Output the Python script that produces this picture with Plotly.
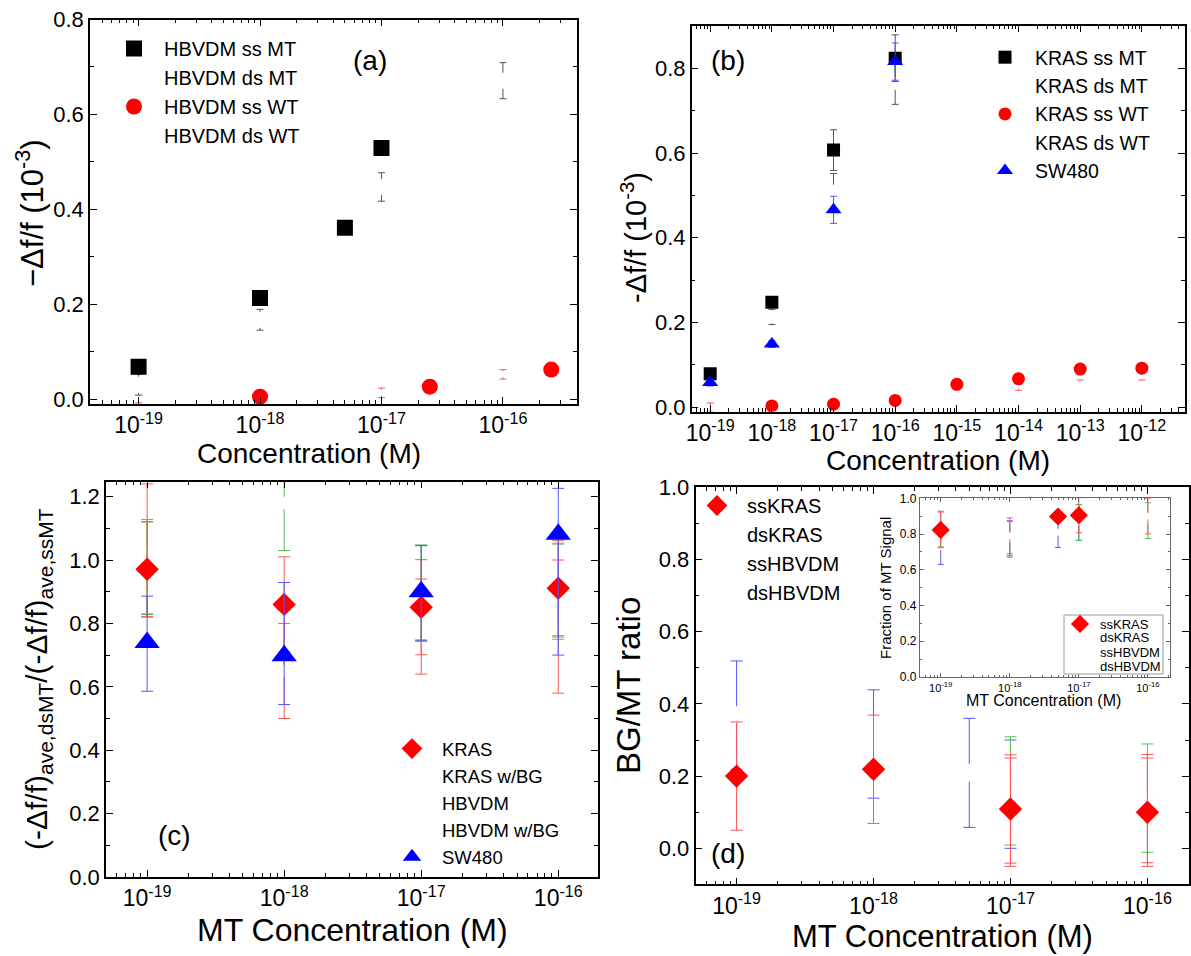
import plotly.graph_objects as go

W, H = 1191, 956
def X(px): return px / W
def Y(py): return 1 - py / H

FONT = "Arial, Liberation Sans, sans-serif"
RED, BLUE, GREEN, BLACK = "#FF0000", "#0000FF", "#00B000", "#000000"
ERED, EBLUE, EGREEN, EBLACK = "#FF5555", "#5555FF", "#55C055", "#555555"

# ---------------- data ----------------
# (a) HBVDM
a_ssMT_x = [1e-19, 1e-18, 5e-18, 1e-17]
a_ssMT_y = [0.068, 0.213, 0.361, 0.529]
a_dsMT_x = [1e-19, 1e-18, 1e-17, 1e-16]
a_dsMT_y = [0.030, 0.167, 0.447, 0.671]
a_dsMT_err = [0.022, 0.022, 0.030, 0.038]
a_ssWT_x = [1e-18, 2.5e-17, 2.5e-16]
a_ssWT_y = [0.005, 0.026, 0.062]
a_dsWT_x = [1e-19, 1e-17, 1e-16]
a_dsWT_y = [0.000, 0.013, 0.052]
a_dsWT_err = [0.008, 0.010, 0.010]

# (b) KRAS
b_ssMT_x = [1e-19, 1e-18, 1e-17, 1e-16]
b_ssMT_y = [0.079, 0.248, 0.607, 0.824]
b_ssMT_err = [0.004, 0.004, 0.048, 0.055]
b_dsMT_x = [1e-19, 1e-18, 1e-17, 1e-16]
b_dsMT_y = [0.065, 0.213, 0.510, 0.765]
b_dsMT_err = [0.004, 0.018, 0.042, 0.050]
b_ssWT_x = [1e-18, 1e-17, 1e-16, 1e-15, 1e-14, 1e-13, 1e-12]
b_ssWT_y = [0.003, 0.007, 0.016, 0.054, 0.067, 0.090, 0.092]
b_dsWT_x = [1e-19, 1e-14, 1e-13, 1e-12]
b_dsWT_y = [0.000, 0.050, 0.072, 0.072]
b_dsWT_err = [0.010, 0.010, 0.008, 0.008]
b_sw_x = [1e-19, 1e-18, 1e-17, 1e-16]
b_sw_y = [0.058, 0.149, 0.466, 0.816]
b_sw_err = [0.008, 0.008, 0.032, 0.044]

# (c) ratio ds/ss
c_x = [1e-19, 1e-18, 1e-17, 1e-16]
c_kras_y = [0.971, 0.860, 0.851, 0.911]
c_kras_err = [0.15, 0.15, 0.15, 0.15]
c_krasbg_y = [1.03, 0.65, 0.79, 0.79]
c_krasbg_err = [0.21, 0.15, 0.15, 0.21]
c_hbv_y = [0.978, 1.18, 0.897, 0.900]
c_hbv_err = [0.15, 0.15, 0.15, 0.15]
c_hbvbg_x = [1e-19, 1e-17, 1e-16]
c_hbvbg_y = [0.975, 0.895, 0.905]
c_hbvbg_err = [0.145, 0.152, 0.148]
c_sw_y = [0.740, 0.698, 0.900, 1.081]
c_sw_errp = [0.146, 0.231, 0.145, 0.145]
c_sw_errm = [0.154, 0.154, 0.153, 0.381]

# (d) BG/MT ratio
d_ssK_x = [1e-19, 1e-18, 1e-17, 1e-16]
d_ssK_y = [0.200, 0.219, 0.109, 0.100]
d_ssK_err = [0.15, 0.15, 0.15, 0.15]
d_dsK_x = [1e-17, 1e-16]
d_dsK_y = [0.100, 0.110]
d_dsK_err = [0.15, 0.15]
d_ssH_x = [1e-19, 1e-18, 5e-18, 1e-17]
d_ssH_y = [0.369, 0.289, 0.209, 0.150]
d_ssH_err = [0.15, 0.15, 0.151, 0.15]
d_dsH_x = [1e-17, 1e-16]
d_dsH_y = [0.159, 0.139]
d_dsH_err = [0.15, 0.15]

# (d) inset: fraction of MT signal
i_ssK_x = [1e-19, 5e-18, 1e-17]
i_ssK_y = [0.823, 0.898, 0.905]
i_ssK_err = [0.10, 0.03, 0.098]
i_dsK_x = [1e-18, 1e-16]
i_dsK_y = [0.790, 0.900]
i_dsK_err = [0.10, 0.10]
i_ssH_x = [1e-19, 1e-18, 5e-18, 1e-17]
i_ssH_y = [0.730, 0.776, 0.810, 0.865]
i_ssH_err = [0.10, 0.098, 0.085, 0.10]
i_dsH_x = [1e-19, 1e-18, 1e-17, 1e-16]
i_dsH_y = [0.828, 0.770, 0.865, 0.875]
i_dsH_err = [0.10, 0.10, 0.10, 0.10]
inset_legend_names = ["dsKRAS", "ssHBVDM", "dsHBVDM"]

tick_vals_b = [1e-19, 1e-18, 1e-17, 1e-16, 1e-15, 1e-14, 1e-13, 1e-12]
tick_text_b = ["10<sup>-19</sup>", "10<sup>-18</sup>", "10<sup>-17</sup>", "10<sup>-16</sup>",
               "10<sup>-15</sup>", "10<sup>-14</sup>", "10<sup>-13</sup>", "10<sup>-12</sup>"]
tick_vals = tick_vals_b[:4]
tick_text = tick_text_b[:4]
minor_vals = [m * 10.0 ** e for e in range(-20, -11) for m in range(2, 10)]

fig = go.Figure()

def add(xs, ys, name, sym, size, color, xa, ya, legend, rank,
        err=None, errm=None, ecolor=None, capw=3.5, hidden=False, showlegend=True):
    ed = None
    if err is not None:
        ed = dict(type="data", array=err, visible=True, color=ecolor or color,
                  thickness=1, width=capw)
        if errm is not None:
            ed["symmetric"] = False
            ed["arrayminus"] = errm
    fig.add_trace(go.Scatter(
        x=xs, y=ys, name=name, mode="markers", xaxis=xa, yaxis=ya,
        legend=legend, legendrank=rank,
        marker=dict(symbol=sym, size=size,
                    color="white" if hidden else color,
                    line=dict(width=0)),
        error_y=ed, showlegend=showlegend))

# (a) -- hidden series drawn first
add(a_dsMT_x, a_dsMT_y, "HBVDM ds MT", "square", 16, BLACK, "x", "y", "legend", 2,
    err=a_dsMT_err, ecolor=EBLACK, hidden=True)
add(a_dsWT_x, a_dsWT_y, "HBVDM ds WT", "circle", 6, RED, "x", "y", "legend", 4,
    err=a_dsWT_err, ecolor=ERED, hidden=True)
add(a_ssMT_x, a_ssMT_y, "HBVDM ss MT", "square", 16, BLACK, "x", "y", "legend", 1)
add(a_ssWT_x, a_ssWT_y, "HBVDM ss WT", "circle", 16, RED, "x", "y", "legend", 3)

# (b)
add(b_dsMT_x, b_dsMT_y, "KRAS ds MT", "square", 13, BLACK, "x2", "y2", "legend2", 2,
    err=b_dsMT_err, ecolor=EBLACK, hidden=True)
add(b_dsWT_x, b_dsWT_y, "KRAS ds WT", "circle", 5, RED, "x2", "y2", "legend2", 4,
    err=b_dsWT_err, ecolor=ERED, hidden=True)
add(b_ssMT_x, b_ssMT_y, "KRAS ss MT", "square", 13, BLACK, "x2", "y2", "legend2", 1,
    err=b_ssMT_err, ecolor=EBLACK)
add(b_ssWT_x, b_ssWT_y, "KRAS ss WT", "circle", 13, RED, "x2", "y2", "legend2", 3)
add(b_sw_x, b_sw_y, "SW480", "triangle-up", 14, BLUE, "x2", "y2", "legend2", 5,
    err=b_sw_err, ecolor=EBLUE)

# (c)
add(c_x, c_krasbg_y, "KRAS w/BG", "diamond", 10, RED, "x3", "y3", "legend3", 2,
    err=c_krasbg_err, ecolor=ERED, capw=6, hidden=True)
add(c_x, c_hbv_y, "HBVDM", "diamond", 10, GREEN, "x3", "y3", "legend3", 3,
    err=c_hbv_err, ecolor=EGREEN, capw=6, hidden=True)
add(c_hbvbg_x, c_hbvbg_y, "HBVDM w/BG", "diamond", 10, GREEN, "x3", "y3", "legend3", 4,
    err=c_hbvbg_err, ecolor=EGREEN, capw=6, hidden=True)
add(c_x, c_kras_y, "KRAS", "diamond", 18, RED, "x3", "y3", "legend3", 1,
    err=c_kras_err, ecolor=ERED, capw=6)
add(c_x, c_sw_y, "SW480", "triangle-up", 22, BLUE, "x3", "y3", "legend3", 5,
    err=c_sw_errp, errm=c_sw_errm, ecolor=EBLUE, capw=6)

# (d)
add(d_ssH_x, d_ssH_y, "ssHBVDM", "diamond", 14, BLUE, "x4", "y4", "legend4", 3,
    err=d_ssH_err, ecolor=EBLUE, capw=6, hidden=True)
add(d_dsH_x, d_dsH_y, "dsHBVDM", "diamond", 14, GREEN, "x4", "y4", "legend4", 4,
    err=d_dsH_err, ecolor=EGREEN, capw=6, hidden=True)
add(d_dsK_x, d_dsK_y, "dsKRAS", "diamond", 14, RED, "x4", "y4", "legend4", 2,
    err=d_dsK_err, ecolor=ERED, capw=6, hidden=True)
add(d_ssK_x, d_ssK_y, "ssKRAS", "diamond", 18, RED, "x4", "y4", "legend4", 1,
    err=d_ssK_err, ecolor=ERED, capw=6)

# inset (hidden-marker series' names are written in the inset legend box below)
add(i_ssH_x, i_ssH_y, "ssHBVDM", "diamond", 6, BLUE, "x5", "y5", "legend5", 3,
    err=i_ssH_err, ecolor=EBLUE, capw=3, hidden=True, showlegend=False)
add(i_dsH_x, i_dsH_y, "dsHBVDM", "diamond", 6, GREEN, "x5", "y5", "legend5", 4,
    err=i_dsH_err, ecolor=EGREEN, capw=3, hidden=True, showlegend=False)
add(i_dsK_x, i_dsK_y, "dsKRAS", "diamond", 6, RED, "x5", "y5", "legend5", 2,
    err=i_dsK_err, ecolor=ERED, capw=3, hidden=True, showlegend=False)
add(i_ssK_x, i_ssK_y, "ssKRAS", "diamond", 14, RED, "x5", "y5", "legend5", 1,
    err=i_ssK_err, ecolor=ERED, capw=3)

# ---------------- axes ----------------
def xax(dom, rng, vals, text, anchor, fs=23, tl=7, ml=4, lc="black", lw=1.5):
    return dict(type="log", domain=dom, range=rng, anchor=anchor, automargin=False,
                tickmode="array", tickvals=vals, ticktext=text,
                ticks="inside", ticklen=tl, tickwidth=1.2, tickcolor=lc,
                minor=dict(tickmode="array", tickvals=minor_vals, ticks="inside",
                           ticklen=ml, tickwidth=1, tickcolor=lc, showgrid=False),
                showline=True, linecolor=lc, linewidth=lw, mirror="allticks",
                showgrid=False, zeroline=False,
                tickfont=dict(family=FONT, size=fs, color="black"))

def yax(dom, rng, dt, anchor, fs=22, tl=7, ml=4, lc="black", lw=1.5):
    return dict(domain=dom, range=rng, anchor=anchor, dtick=dt, tick0=0, automargin=False,
                tickformat=".1f",
                ticks="inside", ticklen=tl, tickwidth=1.2, tickcolor=lc,
                minor=dict(dtick=dt / 2, tick0=0, ticks="inside", ticklen=ml, tickwidth=1,
                           tickcolor=lc, showgrid=False),
                showline=True, linecolor=lc, linewidth=lw, mirror="allticks",
                showgrid=False, zeroline=False,
                tickfont=dict(family=FONT, size=fs, color="black"))

fig.update_layout(
    xaxis=xax([X(90), X(577)], [-19.4, -15.39], tick_vals, tick_text, "y"),
    yaxis=yax([Y(404), Y(19.5)], [-0.0105, 0.8], 0.2, "x"),
    xaxis2=xax([X(691.7), X(1185)], [-19.3, -11.3], tick_vals_b, tick_text_b, "y2"),
    yaxis2=yax([Y(411.5), Y(25.7)], [-0.0102, 0.9007], 0.2, "x2"),
    xaxis3=xax([X(106), X(598)], [-19.3, -15.71], tick_vals, tick_text, "y3"),
    yaxis3=yax([Y(877), Y(481.7)], [0, 1.247], 0.2, "x3"),
    xaxis4=xax([X(695.5), X(1188.5)], [-19.3, -15.7], tick_vals, tick_text, "y4"),
    yaxis4=yax([Y(884.3), Y(487.3)], [-0.0997, 1.0], 0.2, "x4"),
    xaxis5=xax([X(920), X(1170)], [-19.3, -15.68], tick_vals, tick_text, "y5",
               fs=11, tl=4, ml=2, lc="#666666", lw=1.2),
    yaxis5=yax([Y(677.3), Y(498.3)], [-0.002, 1.0], 0.2, "x5",
               fs=12, tl=4, ml=2, lc="#666666", lw=1.2),
)

def leg(xpx, ypx, fs, **kw):
    d = dict(x=X(xpx), y=Y(ypx), xanchor="left", yanchor="top",
             bgcolor="rgba(0,0,0,0)", borderwidth=0, itemwidth=50,
             tracegroupgap=0, traceorder="normal",
             font=dict(family=FONT, size=fs, color="black"))
    d.update(kw)
    return d

fig.update_layout(
    legend=leg(104, 29, 20),
    legend2=leg(975, 38, 19.5),
    legend3=leg(382, 730, 18.5),
    legend4=leg(687, 486, 20),
    legend5=leg(1060, 609, 13, itemwidth=30),
)

# inset legend frame
fig.add_shape(type="rect", xref="paper", yref="paper",
              x0=X(1064), x1=X(1163), y0=Y(674), y1=Y(615),
              line=dict(color="#999999", width=1), fillcolor="white", layer="above")

ann = []
def A(text, xpx, ypx, fs, angle=0, xanchor="center"):
    ann.append(dict(text=text, x=X(xpx), y=Y(ypx), xref="paper", yref="paper",
                    showarrow=False, textangle=angle, xanchor=xanchor, yanchor="middle",
                    font=dict(family=FONT, size=fs, color="black")))

A("\u2212\u0394f/f (10<sup>-3</sup>)", 30, 213, 31, -90)
A("-\u0394f/f (10<sup>-3</sup>)", 634, 238, 29, -90)
A("(-\u0394f/f)<sub>ave,dsMT</sub>/(-\u0394f/f)<sub>ave,ssMT</sub>", 38, 679, 30, -90)
A("BG/MT ratio", 628, 686, 33, -90)
A("Concentration (M)", 309, 453, 28)
A("Concentration (M)", 938, 460, 28)
A("MT Concentration (M)", 352, 930, 32)
A("MT Concentration (M)", 942, 936, 31)
A("(a)", 370, 60, 28)
A("(b)", 728, 60, 28)
A("(c)", 174, 835, 28)
A("(d)", 728, 853, 28)
A("Fraction of MT Signal", 885, 588, 15, -90)
A("MT Concentration (M)", 1043, 700, 16)
for k, nm in enumerate(inset_legend_names):
    A(nm, 1098, 637.5 + 14.7 * k, 13, xanchor="left")

fig.update_layout(annotations=ann, width=W, height=H, autosize=False,
                  margin=dict(l=0, r=0, t=0, b=0, autoexpand=False),
                  paper_bgcolor="white", plot_bgcolor="white",
                  font=dict(family=FONT))

fig.write_html("out.html", config={"displayModeBar": False},
               post_script="document.body.style.margin='0px';"
                           "document.body.style.overflow='hidden';")
